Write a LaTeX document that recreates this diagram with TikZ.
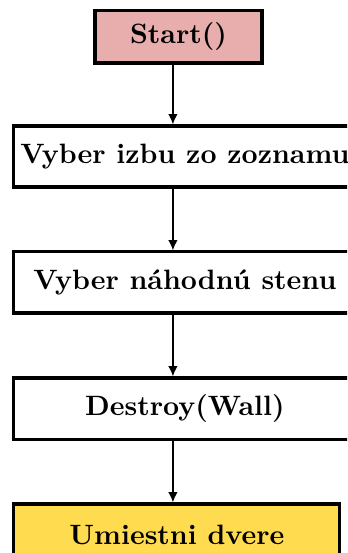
\documentclass[tikz,border=0pt]{standalone}
\usetikzlibrary{positioning,arrows.meta}
\definecolor{startpink}{HTML}{E8AEAE}
\definecolor{doorgold}{HTML}{FFDB4F}
\tikzset{
  krok/.style={draw, line width=1.1pt, font=\bfseries, minimum height=0.766cm, inner sep=0pt},
  sipka/.style={-{Latex[length=1.3mm,width=1.2mm]}, semithick}
}
\begin{document}
\begin{tikzpicture}
    % okraje obrazka
    \useasboundingbox[clip] (0,0) rectangle (4.355,-6.94);

    % kroky algoritmu
    \node[krok, fill=startpink, minimum width=2.096cm, minimum height=0.653cm] (start) at (2.24,-0.464) {Start()};
    \node[krok, minimum width=4.29cm] (izba) at (2.32,-1.964) {Vyber izbu zo zoznamu};
    \node[krok, minimum width=4.29cm] (stena) at (2.32,-3.545) {Vyber náhodnú stenu};
    \node[krok, minimum width=4.29cm] (destroy) at (2.32,-5.127) {Destroy(Wall)};
    \node[krok, fill=doorgold, minimum width=4.09cm] (dvere) at (2.22,-6.708) {Umiestni dvere};

    % os sipok
    \coordinate (os) at (2.17,0);

    % sipky medzi krokmi
    \draw[sipka] (start.south -| os) -- (izba.north -| os);
    \draw[sipka] (izba.south -| os) -- (stena.north -| os);
    \draw[sipka] (stena.south -| os) -- (destroy.north -| os);
    \draw[sipka] (destroy.south -| os) -- (dvere.north -| os);

\end{tikzpicture}
\end{document}
